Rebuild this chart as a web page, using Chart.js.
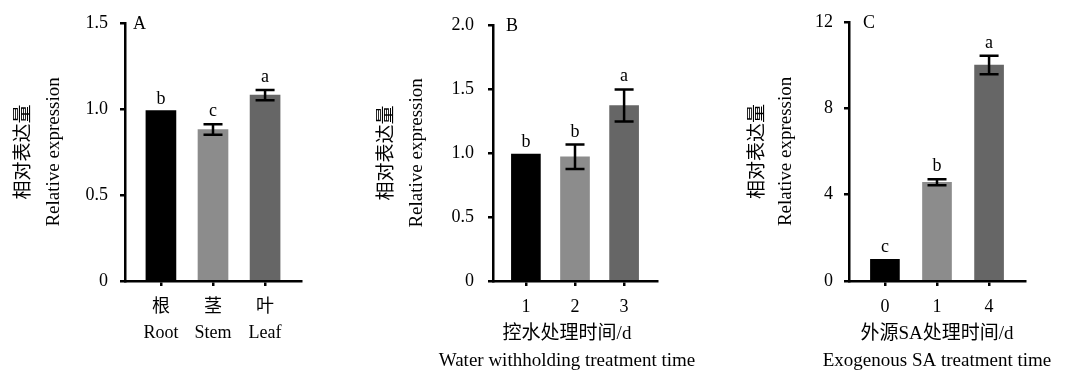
<!DOCTYPE html>
<html><head><meta charset="utf-8">
<script src="https://cdn.jsdelivr.net/npm/chart.js@4.4.1/dist/chart.umd.min.js"></script>
<style>
html,body{margin:0;padding:0;background:#fff;}
#wrap{position:relative;width:1073px;height:385px;overflow:hidden;background:#fff;}
canvas{position:absolute;top:0;}
</style></head><body>
<div id="wrap">
<canvas id="cA" width="340" height="385" style="left:0px"></canvas>
<canvas id="cB" width="360" height="385" style="left:340px"></canvas>
<canvas id="cC" width="373" height="385" style="left:700px"></canvas>
</div>
<script>
// ---- Data ----
const yTitle = ['相对表达量', 'Relative expression'];

const categoriesA = [['根', 'Root'], ['茎', 'Stem'], ['叶', 'Leaf']];
const valuesA = [0.99, 0.88, 1.08];
const errorsA = [0, 0.03, 0.03];
const lettersA = ['b', 'c', 'a'];
const yTicksA = [0, 0.5, 1.0, 1.5];
const yTickLabelsA = ['0', '0.5', '1.0', '1.5'];

const categoriesB = ['1', '2', '3'];
const valuesB = [0.99, 0.97, 1.37];
const errorsB = [0, 0.095, 0.125];
const lettersB = ['b', 'b', 'a'];
const yTicksB = [0, 0.5, 1.0, 1.5, 2.0];
const yTickLabelsB = ['0', '0.5', '1.0', '1.5', '2.0'];
const xTitleB = ['控水处理时间/d', 'Water withholding treatment time'];

const categoriesC = ['0', '1', '4'];
const valuesC = [1.0, 4.57, 10.0];
const errorsC = [0, 0.14, 0.43];
const lettersC = ['c', 'b', 'a'];
const yTicksC = [0, 4, 8, 12];
const yTickLabelsC = ['0', '4', '8', '12'];
const xTitleC = ['外源SA处理时间/d', 'Exogenous SA treatment time'];

const barColors = ['#000000', '#8c8c8c', '#666666'];

// ---- Rendering ----
const FONT = "'Liberation Serif', 'Noto Sans CJK SC', serif";

function annotPlugin(p) {
  return {
    id: 'annot',
    afterDatasetsDraw(chart) {
      const {ctx, chartArea, scales} = chart;
      const x = scales.x, y = scales.y;
      ctx.save();
      ctx.strokeStyle = '#000';
      ctx.fillStyle = '#000';
      ctx.lineWidth = 2.5;
      const cap = 9.5;
      p.vals.forEach((v, i) => {
        const e = p.errs[i];
        const px = x.getPixelForValue(i);
        let top = y.getPixelForValue(v);
        if (e > 0) {
          const yh = y.getPixelForValue(v + e), yl = y.getPixelForValue(v - e);
          ctx.beginPath();
          ctx.moveTo(px, yh); ctx.lineTo(px, yl);
          ctx.moveTo(px - cap, yh); ctx.lineTo(px + cap, yh);
          ctx.moveTo(px - cap, yl); ctx.lineTo(px + cap, yl);
          ctx.stroke();
          top = yh - 1;
        }
        ctx.font = '18px ' + FONT;
        ctx.textAlign = 'center';
        ctx.textBaseline = 'alphabetic';
        ctx.fillText(p.letters[i], px, top - 7);
      });
      // panel letter
      ctx.font = '18px ' + FONT;
      ctx.textAlign = 'left';
      ctx.textBaseline = 'middle';
      ctx.fillText(p.panel, chartArea.left + p.panelDx, chartArea.top + 1.5);
      // x-axis title (drawn without width compression)
      if (p.xTitle) {
        ctx.font = '19px ' + FONT;
        ctx.textAlign = 'center';
        const cx = (chartArea.left + chartArea.right) / 2 + p.xTitleDx;
        p.xTitle.forEach((t, k) => ctx.fillText(t, cx, chartArea.bottom + 53 + k * 27));
      }
      ctx.restore();
    }
  };
}

function makeChart(id, p) {
  const gridOpts = {display: true, drawOnChartArea: false, drawTicks: true, tickLength: 5,
                    color: '#000', lineWidth: 2.5, offset: false};
  const borderOpts = {display: true, color: '#000', width: 2.5};
  return new Chart(document.getElementById(id), {
    type: 'bar',
    data: {
      datasets: [{
        data: p.vals.map((v, i) => ({x: i, y: v})),
        backgroundColor: barColors,
        borderWidth: 0,
        barThickness: p.barW
      }]
    },
    options: {
      responsive: false,
      animation: false,
      devicePixelRatio: 1,
      layout: {padding: {top: 19, right: p.padRight, bottom: 0, left: 0}},
      plugins: {legend: {display: false}, tooltip: {enabled: false}},
      scales: {
        x: {
          type: 'linear', min: p.xMin, max: p.xMax, offset: false,
          afterBuildTicks: s => { s.ticks = p.cats.map((c, i) => ({value: i})); },
          afterFit: s => { s.height = 104; },
          ticks: {autoSkip: false, maxRotation: 0, padding: 8, color: '#000',
                  font: {family: FONT, size: 18, lineHeight: '26px'},
                  callback: (v, i) => p.cats[i]},
          grid: gridOpts,
          border: borderOpts,
          title: {display: false}
        },
        y: {
          min: 0, max: p.yMax,
          afterBuildTicks: s => { s.ticks = p.yTicks.map(v => ({value: v})); },
          afterFit: s => { s.width = p.yW; },
          ticks: {padding: p.yTickPad, color: '#000', font: {family: FONT, size: 18},
                  callback: (v, i) => p.yLabels[i]},
          grid: gridOpts,
          border: borderOpts,
          title: {display: true, text: yTitle, color: '#000',
                  font: {family: FONT, size: 19, lineHeight: p.yTitleLH + 'px'},
                  padding: {top: p.yTitlePad, bottom: 0}}
        }
      }
    },
    plugins: [annotPlugin(p)]
  });
}

makeChart('cA', {cats: categoriesA, vals: valuesA, errs: errorsA, letters: lettersA,
  yTicks: yTicksA, yLabels: yTickLabelsA, yMax: 1.5, xTitle: null, panel: 'A',
  yW: 125, padRight: 39, xMin: -0.69, xMax: 2.69, barW: 30, yTickPad: 12,
  yTitlePad: 9, yTitleLH: 30, panelDx: 8, xTitleDx: 0});

makeChart('cB', {cats: categoriesB, vals: valuesB, errs: errorsB, letters: lettersB,
  yTicks: yTicksB, yLabels: yTickLabelsB, yMax: 2.0, xTitle: xTitleB, panel: 'B',
  yW: 153, padRight: 43, xMin: -0.67, xMax: 2.67, barW: 29, yTickPad: 14,
  yTitlePad: 32, yTitleLH: 30, panelDx: 13, xTitleDx: -8});

makeChart('cC', {cats: categoriesC, vals: valuesC, errs: errorsC, letters: lettersC,
  yTicks: yTicksC, yLabels: yTickLabelsC, yMax: 12, xTitle: xTitleC, panel: 'C',
  yW: 149, padRight: 48, xMin: -0.69, xMax: 2.69, barW: 29, yTickPad: 11,
  yTitlePad: 44, yTitleLH: 28, panelDx: 14, xTitleDx: 0});
</script>
</body></html>
